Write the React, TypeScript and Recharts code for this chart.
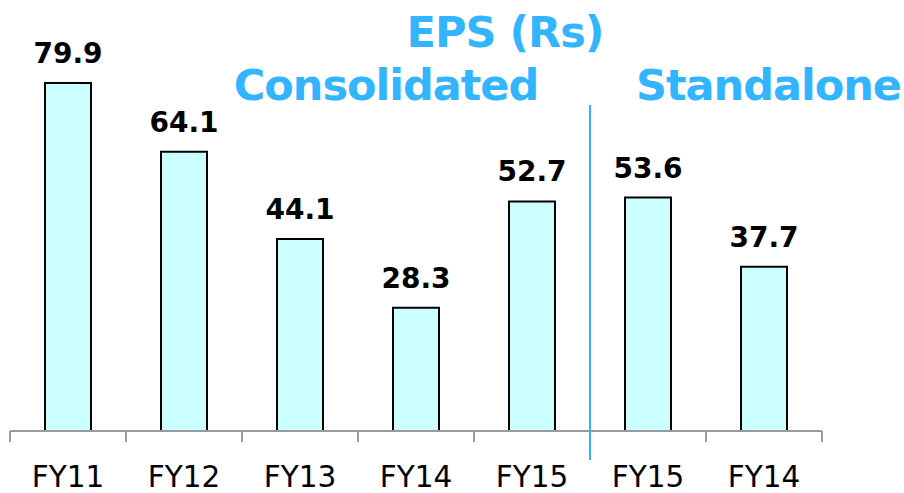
import React from 'react';
import { BarChart, Bar, XAxis, YAxis, LabelList } from 'recharts';

// categories and values
const years = ['FY11', 'FY12', 'FY13', 'FY14', 'FY15', 'FY15', 'FY14'];
const eps = [79.9, 64.1, 44.1, 28.3, 52.7, 53.6, 37.7];
// the standalone group starts at this category index
const standaloneStart = 5;

const data = years.map((name, i) => ({ name, eps: eps[i] }));

const BLUE = '#33B4FF';
const GREY = '#9a9a9a';
const FONT = '"DejaVu Sans", Verdana, sans-serif';
const BAND = (904 - 10 - 82) / years.length;

const YearTick = (props: any) => {
  const { x, y, payload, index } = props;
  const left = x - BAND / 2;
  const right = x + BAND / 2;
  return (
    <g>
      <line x1={left} x2={left} y1={y} y2={y + 11} stroke={GREY} strokeWidth={2} />
      {index === years.length - 1 && (
        <line x1={right} x2={right} y1={y} y2={y + 11} stroke={GREY} strokeWidth={2} />
      )}
      {index === standaloneStart && (
        <line x1={left} x2={left} y1={y - 326} y2={y + 29} stroke={BLUE} strokeWidth={2} />
      )}
      <text x={x} y={y + 56} textAnchor="middle" fontFamily={FONT} fontSize={29.5} fill="#000">
        {payload.value}
      </text>
    </g>
  );
};

const App: React.FC = () => {
  return (
    <div style={{ position: 'absolute', left: 0, top: 0, width: 904, height: 493, background: '#fff' }}>
      <BarChart
        width={904}
        height={493}
        data={data}
        margin={{ top: 39, right: 82, left: 10, bottom: 0 }}
      >
        <XAxis
          dataKey="name"
          height={62}
          axisLine={{ stroke: GREY, strokeWidth: 2 }}
          tickLine={false}
          tickSize={0}
          tickMargin={0}
          interval={0}
          tick={(p: any) => <YearTick {...p} />}
        />
        <YAxis hide domain={[0, 90]} />
        <Bar dataKey="eps" fill="#CCFFFF" stroke="#000" strokeWidth={2} barSize={46} isAnimationActive={false}>
          <LabelList
            dataKey="eps"
            position="top"
            offset={20}
            fill="#000"
            fontFamily={FONT}
            fontWeight="bold"
            fontSize={28}
          />
        </Bar>
      </BarChart>
      <svg width={904} height={493} style={{ position: 'absolute', left: 0, top: 0, pointerEvents: 'none' }}>
        <g fontFamily={FONT} fontWeight="bold" fontSize={43} letterSpacing={-1} fill={BLUE}>
          <text x={505} y={47} textAnchor="middle">EPS (Rs)</text>
          <text x={386} y={100} textAnchor="middle">Consolidated</text>
          <text x={636} y={100} textAnchor="start">Standalone</text>
        </g>
      </svg>
    </div>
  );
};

export default App;
